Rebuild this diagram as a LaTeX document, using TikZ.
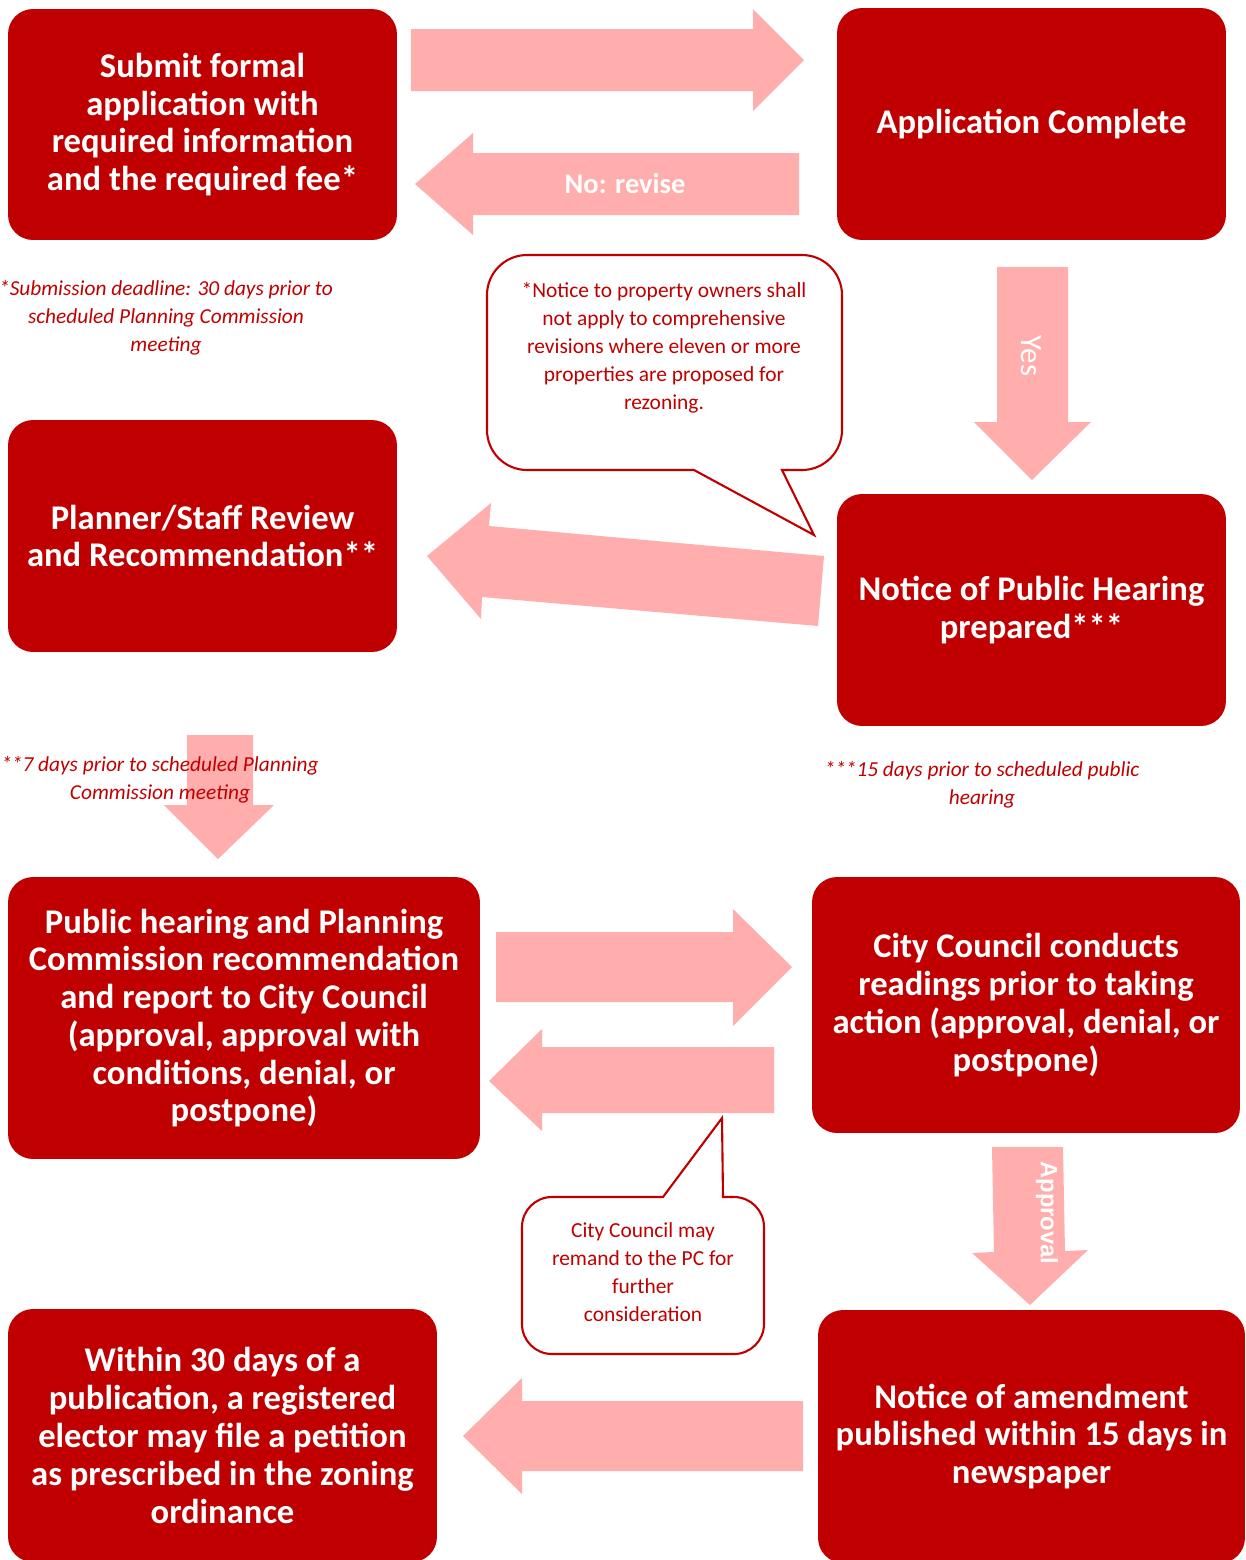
\documentclass[tikz,border=0pt]{standalone}
\usepackage{fontspec}
\setmainfont{Carlito}
\newfontfamily\arialfont{Liberation Sans}
\definecolor{boxred}{HTML}{C00000}
\definecolor{arrowpink}{HTML}{FFADAD}

\begin{document}
\begin{tikzpicture}[x=0.02cm,y=-0.02cm,
    box/.style={fill=boxred,rounded corners=0.5cm,text=white,align=center,
        font=\bfseries\fontsize{19.7}{21.5}\selectfont,inner sep=0pt},
    blockarrow/.style={fill=arrowpink},
    arrowlabel/.style={text=white,font=\fontsize{17.6}{21.5}\selectfont},
    note/.style={text=boxred,align=center,font=\itshape\fontsize{12.15}{15.9}\selectfont},
    bubble/.style={draw=boxred,fill=white,line width=1.2pt},
    bubbletext/.style={text=boxred,align=center,font=\fontsize{12.2}{15.9}\selectfont}]
\useasboundingbox (0,0) rectangle (1246,1560);

% the steps
\node[box,minimum width=7.78cm,minimum height=4.62cm] (submit) at (202.5,124.5)
    {Submit formal\\application with\\required information\\and the required fee*};
\node[box,minimum width=7.78cm,minimum height=4.64cm] (complete) at (1031.5,124)
    {Application Complete};
\node[box,minimum width=7.78cm,minimum height=4.64cm] (review) at (202.5,536)
    {Planner/Staff Review\\and Recommendation**};
\node[box,minimum width=7.78cm,minimum height=4.64cm] (notice) at (1031.5,610)
    {Notice of Public Hearing\\prepared***};
\node[box,minimum width=9.44cm,minimum height=5.64cm] (hearing) at (244,1018)
    {Public hearing and Planning\\Commission recommendation\\and report to City Council\\(approval, approval with\\conditions, denial, or\\postpone)};
\node[box,minimum width=8.56cm,minimum height=5.12cm] (council) at (1026,1005)
    {City Council conducts\\readings prior to taking\\action (approval, denial, or\\postpone)};
\node[box,minimum width=8.58cm,minimum height=5.06cm] (petition) at (222.5,1435.5)
    {Within 30 days of a\\publication, a registered\\elector may file a petition\\as prescribed in the zoning\\ordinance};
\node[box,minimum width=8.54cm,minimum height=5.06cm] (amend) at (1031.5,1436.5)
    {Notice of amendment\\published within 15 days in\\newspaper};

% block arrows between the steps
\fill[blockarrow] (411,29) -- (753,29) -- (753,9) -- (804,60) -- (753,111) -- (753,91) -- (411,91) -- cycle;
\fill[blockarrow] (799,153) -- (473,153) -- (473,133) -- (415,184) -- (473,235) -- (473,215) -- (799,215) -- cycle;
\node[arrowlabel,font=\bfseries\fontsize{16.2}{20}\selectfont] (revise) at (625,184) {No: revise};
\fill[blockarrow] (997,267) -- (1068,267) -- (1068,422) -- (1091,422) -- (1032,480) -- (974,422) -- (997,422) -- cycle;
\node[arrowlabel,rotate=-90] (yes) at (1031,356) {Yes};
\fill[blockarrow] (824,556) -- (489,526) -- (491,503) -- (427,556) -- (481,619) -- (482,597) -- (818,626) -- cycle;
\fill[blockarrow] (187,735) -- (253,735) -- (253,805) -- (274,805) -- (218,859) -- (164,805) -- (187,805) -- cycle;
\fill[blockarrow] (496,932) -- (733,932) -- (733,909) -- (792,967) -- (733,1026) -- (733,1002) -- (496,1002) -- cycle;
\fill[blockarrow] (774,1047) -- (542,1047) -- (542,1029) -- (489,1081) -- (542,1131) -- (542,1113) -- (774,1113) -- cycle;
\fill[blockarrow] (992,1147) -- (1063,1147) -- (1065,1251) -- (1088,1250) -- (1030,1305) -- (972,1253) -- (994,1252) -- cycle;
\node[arrowlabel,rotate=-90,font=\arialfont\bfseries\fontsize{13.5}{16}\selectfont] (approval) at (1047,1213) {Approval};
\fill[blockarrow] (803,1401) -- (522,1401) -- (522,1378) -- (463,1436) -- (522,1494) -- (522,1471) -- (803,1471) -- cycle;

% callouts
\draw[bubble] (814,535) -- (694,470) [rounded corners=0.8cm] -- (487,470) -- (487,255)
    -- (842,255) -- (842,470) [sharp corners] -- (782,470) -- cycle;
\node[bubbletext] (owners) at (664,348)
    {*Notice to property owners shall\\not apply to comprehensive\\revisions where eleven or more\\properties are proposed for\\rezoning.};
\draw[bubble] (722,1118) -- (723,1197) [rounded corners=0.6cm] -- (764,1197) -- (764,1354)
    -- (522,1354) -- (522,1197) [sharp corners] -- (663,1197) -- cycle;
\node[bubbletext] (remand) at (643,1272)
    {City Council may\\remand to the PC for\\further\\consideration};

% footnotes
\node[note] (deadline) at (166,318)
    {*Submission deadline: 30 days prior to\\scheduled Planning Commission\\meeting};
\node[note] (sevendays) at (160,780)
    {**7 days prior to scheduled Planning\\Commission meeting};
\node[note] (fifteendays) at (982,785)
    {***15 days prior to scheduled public\\hearing};
\end{tikzpicture}
\end{document}
